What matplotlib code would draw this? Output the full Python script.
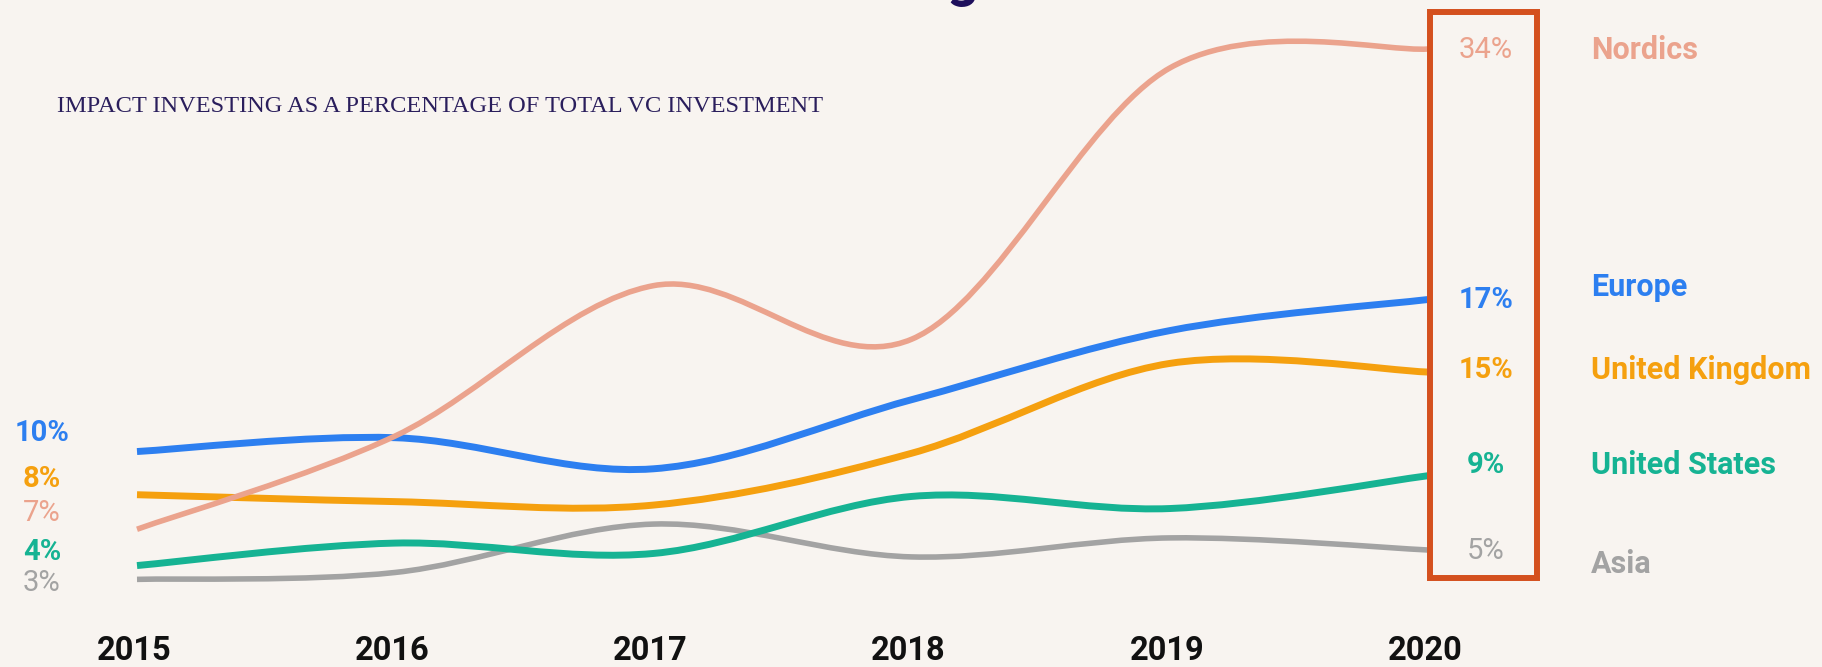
import matplotlib
matplotlib.use("Agg")
import matplotlib.pyplot as plt
from matplotlib.path import Path
from matplotlib.patches import PathPatch, Rectangle
import numpy as np

W, H = 1822, 667
bg = '#F8F4F0'

years = [2015, 2016, 2017, 2018, 2019, 2020]

# values as drawn (percent of total VC investment)
nordics = [6.2, 11.6, 20.3, 17.2, 32.9, 34.0]
europe = [10.7, 11.5, 9.7, 13.7, 17.7, 19.5]
uk = [8.2, 7.8, 7.6, 10.6, 15.8, 15.3]
us = [4.1, 5.4, 4.8, 8.1, 7.4, 9.3]
asia = [3.3, 3.7, 6.5, 4.6, 5.7, 5.0]

regions = ['Nordics', 'Europe', 'United Kingdom', 'United States', 'Asia']
start_labels = ['7%', '10%', '8%', '4%', '3%']
end_labels = ['34%', '17%', '15%', '9%', '5%']
colors = ['#EBA38D', '#2D7FF0', '#F5A00F', '#16B393', '#A3A3A3']
series = [nordics, europe, uk, us, asia]

# pixel mapping -> axes limits
x0_px, px_per_year = 137, 258.2
y_ref_px, y_ref_val, px_per_pct = 550, 5.0, 17.276


def smooth_path(xs, ys):
    # cardinal (Catmull-Rom) spline as cubic bezier segments
    xs = np.asarray(xs, float)
    ys = np.asarray(ys, float)
    n = len(xs)
    mx = np.zeros(n)
    my = np.zeros(n)
    for i in range(n):
        a = max(i - 1, 0)
        b = min(i + 1, n - 1)
        mx[i] = (xs[b] - xs[a]) / 2
        my[i] = (ys[b] - ys[a]) / 2
    verts = [(xs[0], ys[0])]
    codes = [Path.MOVETO]
    for i in range(n - 1):
        verts += [(xs[i] + mx[i] / 3, ys[i] + my[i] / 3),
                  (xs[i + 1] - mx[i + 1] / 3, ys[i + 1] - my[i + 1] / 3),
                  (xs[i + 1], ys[i + 1])]
        codes += [Path.CURVE4] * 3
    return Path(verts, codes)


fig = plt.figure(figsize=(W / 100, H / 100), dpi=100, facecolor=bg)
ax = fig.add_axes([0, 0, 1, 1])
ax.set_facecolor(bg)
ax.set_xlim(2015 - x0_px / px_per_year, 2015 + (W - x0_px) / px_per_year)
ax.set_ylim(y_ref_val - (H - y_ref_px) / px_per_pct, y_ref_val + y_ref_px / px_per_pct)
ax.axis('off')

widths = [4.0, 5.0, 5.0, 5.0, 4.0]
order = [4, 3, 2, 1, 0]
for i in order:
    p = PathPatch(smooth_path(years, series[i]), fill=False, edgecolor=colors[i],
                  lw=widths[i], capstyle='butt', zorder=2 + (4 - i))
    ax.add_patch(p)


def fxy(px, py):
    return px / W, 1 - py / H


# subtitle
fig.text(*fxy(57, 107), 'IMPACT INVESTING AS A PERCENTAGE OF TOTAL VC INVESTMENT',
         family='Liberation Serif', fontsize=17.6, color='#2A1E5C', va='center', ha='left')

# cut-off title glyph at the very top (title sits above the frame in the reference)
fig.text(*fxy(962, -4), 'g', family='Roboto', fontweight='bold', fontsize=40,
         color='#1E0F5C', ha='center', va='baseline')

# year labels
for yr in years:
    fig.text(ax.transData.transform((yr, 0))[0] / W - 3 / W, 1 - 651 / H, str(yr),
             fontsize=23.5, fontweight='bold', family='Roboto', color='#111111',
             ha='center', va='center')

# left start labels
start_y = [513, 433, 479, 552, 583]
start_bold = [False, True, True, True, False]
for lab, c, y, b in zip(start_labels, colors, start_y, start_bold):
    fig.text(*fxy(42, y), lab, family='Roboto', fontsize=21,
             fontweight='bold' if b else 'normal', color=c, ha='center', va='center')

# highlight box
box = Rectangle(fxy(1430, 578), (1537 - 1430) / W, (578 - 12) / H,
                transform=fig.transFigure, fill=False, edgecolor='#D4501E',
                lw=4.3, zorder=10)
fig.patches.append(box)

# end values and region names
end_y = [50, 300, 370, 465, 551]
name_y = [50, 287, 370, 465, 564]
for lab, name, c, ey, ny, b in zip(end_labels, regions, colors, end_y, name_y, start_bold):
    fig.text(*fxy(1486, ey), lab, family='Roboto', fontsize=21,
             fontweight='bold' if b else 'normal', color=c, ha='center', va='center')
    fig.text(*fxy(1591, ny), name, family='Roboto', fontsize=22,
             fontweight='bold', color=c, ha='left', va='center')

fig.savefig('out.png', dpi=100, facecolor=bg)
